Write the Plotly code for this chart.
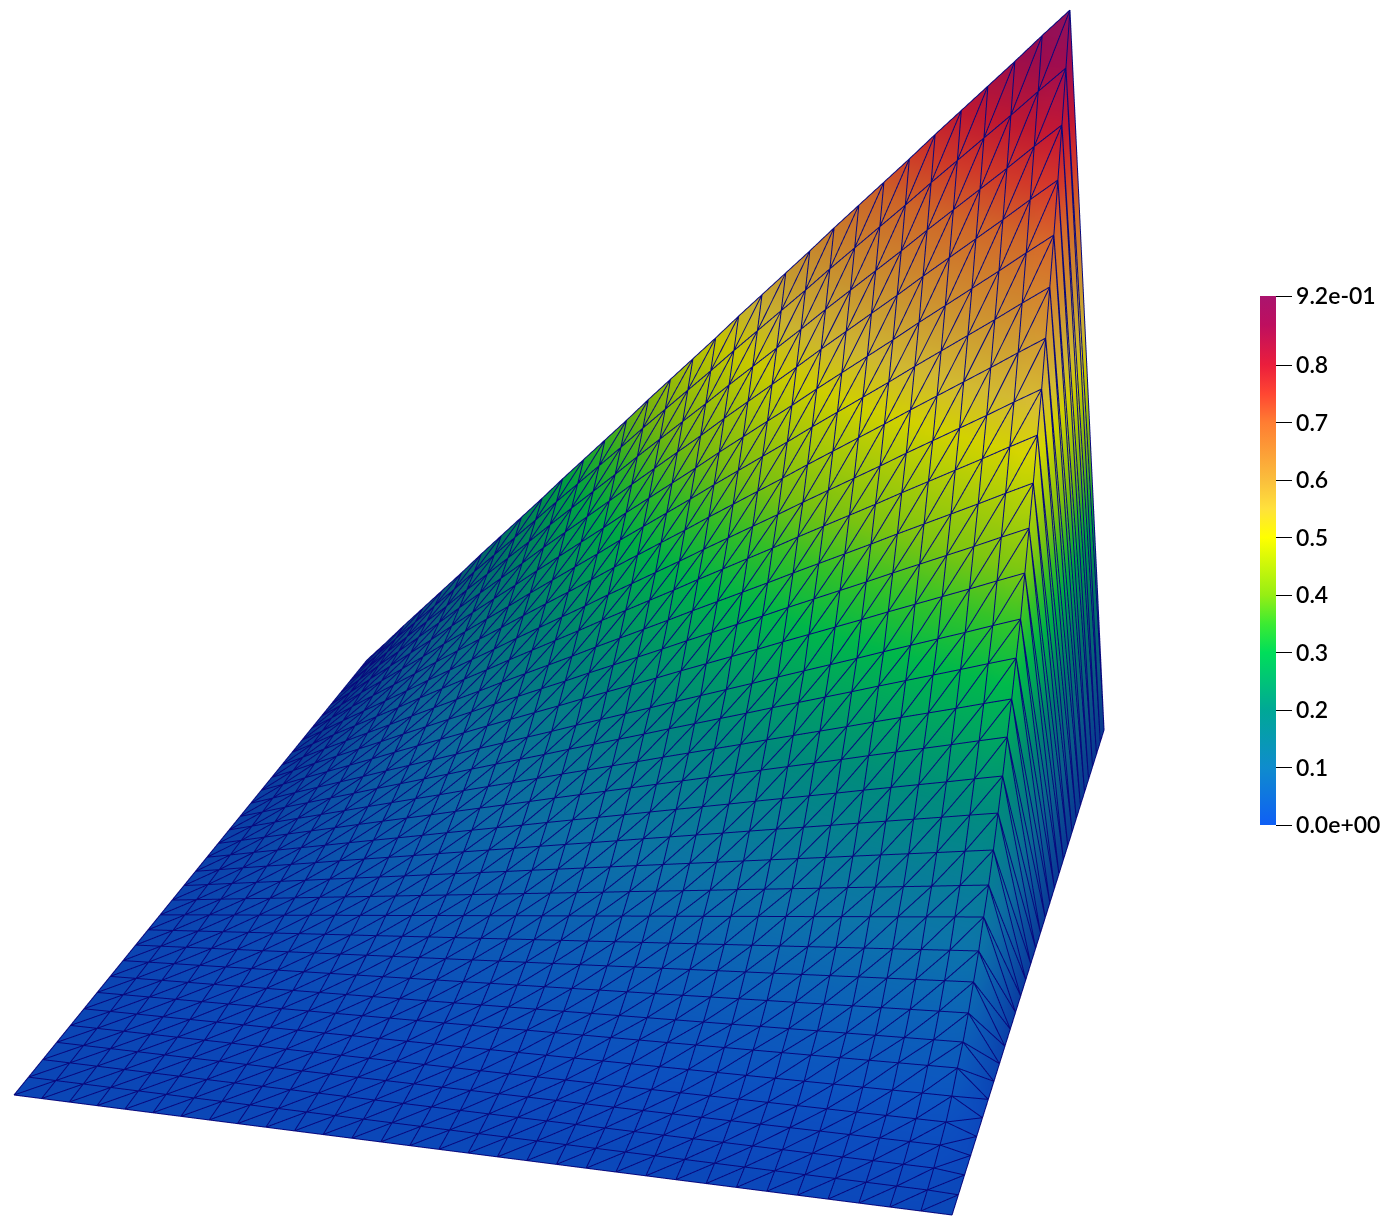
import numpy as np
import plotly.graph_objects as go

# --- values ----------------------------------------------------------------
# Solution along the last interior column, from the y=0 side to the y=1 side
u_along_y = [0, .0012, .0041, .0089, .0143, .0241, .0372, .048, .0634, .0818, .1007, .1239,
             .1449, .1703, .1985, .2272, .2587, .2893, .3238, .3561, .3973, .4373, .4777, .5216,
             .5633, .6108, .6586, .7072, .7593, .8112, .8652, .92]
# Relative profile across the columns (drops to zero in the last cell)
profile_x = [0, .032, .065, .097, .129, .161, .194, .226, .258, .290, .323, .355, .387, .419,
             .452, .484, .516, .548, .581, .613, .645, .677, .710, .742, .774, .806, .839, .871,
             .903, .935, .968, 1.0, 0]
tick_values = [0, .1, .2, .3, .4, .5, .6, .7, .8, .92]
tick_labels = ["0.0e+00", "0.1", "0.2", "0.3", "0.4", "0.5", "0.6", "0.7", "0.8", "9.2e-01"]
color_stops = [(0.0, (15, 95, 245)), (.1, (15, 140, 205)), (.2, (0, 168, 150)), (.3, (0, 222, 90)),
               (.35, (60, 235, 50)), (.4, (150, 238, 20)), (.5, (255, 255, 0)), (.55, (255, 225, 60)),
               (.6, (250, 190, 60)), (.7, (255, 125, 50)), (.75, (255, 70, 50)), (.8, (235, 30, 60)),
               (.87, (190, 15, 95)), (.92, (170, 20, 110))]

# --- mesh --------------------------------------------------------------------
WIDTH, HEIGHT = 1385, 1218
nx, ny = len(profile_x), len(u_along_y)
xs = np.linspace(0, 1, nx)
ys = np.linspace(0, 1, ny)
XX, YY = np.meshgrid(xs, ys, indexing="ij")
UU = np.outer(profile_x, u_along_y)
idx = lambda i, j: i * ny + j

# --- camera of the original view: projective matrix from (x, y, u, 1) ------------
CAM = np.array([[879.1, 457.8, -227.2, 14.0],
                [44.8, -246.6, -958.0, 1095.0],
                [-.06189, .28549, -.2, 1.0]])
FOCAL = HEIGHT / 2 / np.tan(np.pi / 8)   # plotly's fixed 45 degree field of view
EYE = 1.1


def to_scene(x, y, u, bias=1.0):
    p = np.stack([x, y, u, np.ones_like(x)])
    a, b, w = CAM @ p
    sx = (a - WIDTH / 2 * w) / FOCAL
    sy = -(b - HEIGHT / 2 * w) / FOCAL
    return sx * bias, sy * bias, EYE - w * bias


sx, sy, sz = to_scene(XX.ravel(), YY.ravel(), UU.ravel())

ti, tj, tk = [], [], []
segs = []
for i in range(nx - 1):
    for j in range(ny - 1):
        a, b, c, d = idx(i, j), idx(i + 1, j), idx(i + 1, j + 1), idx(i, j + 1)
        ti += [a, a]; tj += [b, c]; tk += [c, d]
        segs += [(a, b), (a, d), (a, c)]
for i in range(nx - 1):
    segs.append((idx(i, ny - 1), idx(i + 1, ny - 1)))
for j in range(ny - 1):
    segs.append((idx(nx - 1, j), idx(nx - 1, j + 1)))

lx, ly, lz = [], [], []
for a, b in segs:
    for n in (a, b):
        lx.append(XX.ravel()[n]); ly.append(YY.ravel()[n]); lz.append(UU.ravel()[n])
    lx.append(np.nan); ly.append(np.nan); lz.append(np.nan)
wx, wy, wz = to_scene(np.array(lx), np.array(ly), np.array(lz), bias=0.9985)

umax = tick_values[-1]
colorscale = [[v / umax, "rgb(%d,%d,%d)" % c] for v, c in color_stops]

fig = go.Figure()
fig.add_trace(go.Mesh3d(
    x=sx, y=sy, z=sz, i=ti, j=tj, k=tk,
    intensity=UU.ravel(), colorscale=colorscale, cmin=0, cmax=umax,
    flatshading=False, hoverinfo="skip",
    lighting=dict(ambient=0.42, diffuse=0.42, specular=0, roughness=0.02, fresnel=0),
    lightposition=dict(x=35000, y=35000, z=87000),
    colorbar=dict(
        x=1260 / WIDTH, xanchor="left", xpad=0,
        y=393 / HEIGHT, yanchor="bottom", ypad=0,
        lenmode="pixels", len=529, thicknessmode="pixels", thickness=16,
        outlinewidth=0, ticks="outside", ticklen=16, tickwidth=1, tickcolor="black",
        tickmode="array", tickvals=tick_values, ticktext=tick_labels,
        tickfont=dict(family="Lato", size=23, color="black", weight=600),
    ),
))
fig.add_trace(go.Scatter3d(
    x=wx, y=wy, z=wz, mode="lines", hoverinfo="skip", showlegend=False,
    line=dict(color="rgb(8,8,125)", width=2),
))
hidden = dict(visible=False, range=[-1, 1], autorange=False)
fig.update_layout(
    width=WIDTH, height=HEIGHT, paper_bgcolor="white", showlegend=False,
    margin=dict(l=0, r=0, t=0, b=0, pad=0, autoexpand=False),
    scene=dict(
        domain=dict(x=[0, 1], y=[0, 1]), bgcolor="white",
        xaxis=hidden, yaxis=hidden, zaxis=hidden,
        aspectmode="manual", aspectratio=dict(x=2, y=2, z=2),
        camera=dict(eye=dict(x=0, y=0, z=EYE), center=dict(x=0, y=0, z=0),
                    up=dict(x=0, y=1, z=0), projection=dict(type="perspective")),
    ),
)
fig.write_html("out.html", config={"displayModeBar": False},
               post_script="document.body.style.margin='0';document.documentElement.style.overflow='hidden';")
